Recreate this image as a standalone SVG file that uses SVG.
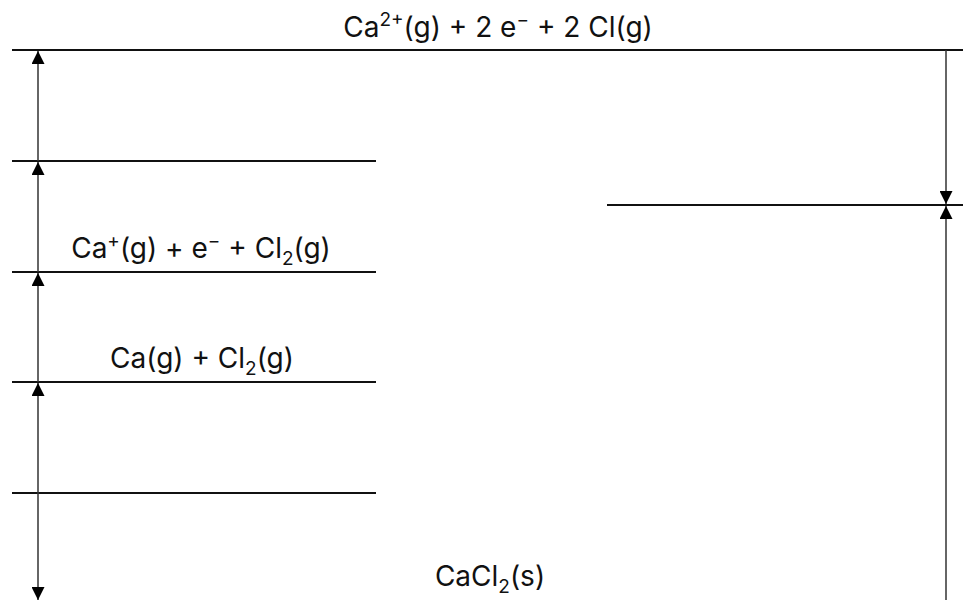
<svg xmlns="http://www.w3.org/2000/svg" width="963" height="600" viewBox="0 0 963 600">
<defs>
<marker id="ah" viewBox="0 0 12 12" refX="12" refY="6" markerWidth="13" markerHeight="13" markerUnits="userSpaceOnUse" orient="auto">
<path d="M0,0 L12,6 L0,12 Z" fill="#000"/>
</marker>
<style>
.lvl{stroke:#111;stroke-width:2;fill:none}
.arr{stroke:#333;stroke-width:1.5;fill:none;marker-end:url(#ah)}
.lbl{font-family:Inter,"Liberation Sans",sans-serif;font-size:28px;fill:#111}
.sm{font-size:19px}
</style>
</defs>
<rect width="963" height="600" fill="#fff"/>
<g id="level-top">
<line class="lvl" x1="12" y1="50" x2="963" y2="50"/>
<text class="lbl" x="498" y="37" text-anchor="middle">Ca<tspan class="sm" dy="-11">2+</tspan><tspan dy="11">(g) + 2 e</tspan><tspan class="sm" dy="-11">−</tspan><tspan dy="11"> + 2 Cl(g)</tspan></text>
</g>
<g id="level-2">
<line class="lvl" x1="12" y1="161" x2="376" y2="161"/>
</g>
<g id="level-3">
<line class="lvl" x1="12" y1="272" x2="376" y2="272"/>
<text class="lbl" x="201" y="258" text-anchor="middle">Ca<tspan class="sm" dy="-11">+</tspan><tspan dy="11">(g) + e</tspan><tspan class="sm" dy="-11">−</tspan><tspan dy="11"> + Cl</tspan><tspan class="sm" dy="7">2</tspan><tspan dy="-7">(g)</tspan></text>
</g>
<g id="level-4">
<line class="lvl" x1="12" y1="382" x2="376" y2="382"/>
<text class="lbl" x="202" y="368" text-anchor="middle">Ca(g) + Cl<tspan class="sm" dy="7">2</tspan><tspan dy="-7">(g)</tspan></text>
</g>
<g id="level-5">
<line class="lvl" x1="12" y1="493" x2="376" y2="493"/>
</g>
<g id="level-right">
<line class="lvl" x1="607" y1="205" x2="963" y2="205"/>
</g>
<g id="level-bottom">
<text class="lbl" x="490" y="586" text-anchor="middle">CaCl<tspan class="sm" dy="7">2</tspan><tspan dy="-7">(s)</tspan></text>
</g>
<g id="connectors">
<line class="arr" x1="38" y1="161" x2="38" y2="51"/>
<line class="arr" x1="38" y1="272" x2="38" y2="162"/>
<line class="arr" x1="38" y1="382" x2="38" y2="273"/>
<line class="arr" x1="38" y1="493" x2="38" y2="383"/>
<line class="arr" x1="38" y1="493" x2="38" y2="600"/>
<line class="arr" x1="946" y1="50" x2="946" y2="204"/>
<line class="arr" x1="946" y1="600" x2="946" y2="206"/>
</g>
</svg>
